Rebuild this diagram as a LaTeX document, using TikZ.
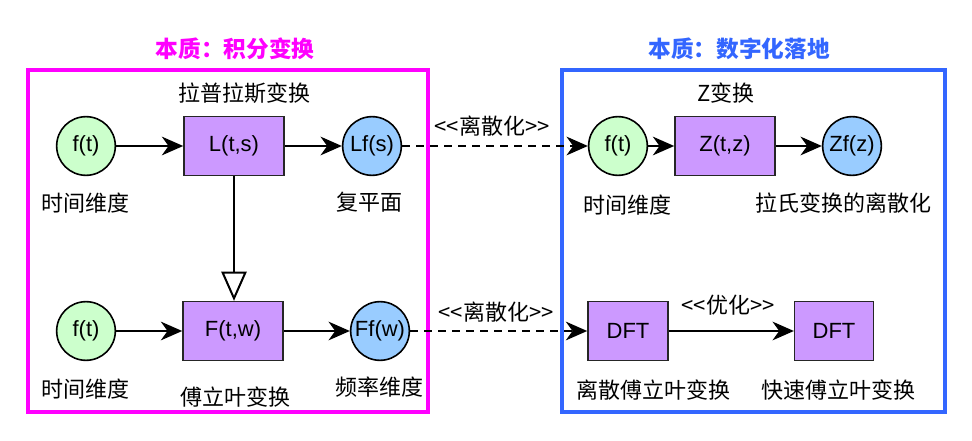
\documentclass[tikz,border=0pt]{standalone}
\usepackage{fontspec}
\setmainfont{Liberation Sans}
\newfontfamily\cjk{Noto Sans CJK SC}
\usetikzlibrary{arrows.meta}
\definecolor{cgreen}{HTML}{CCFFCC}
\definecolor{cblue}{HTML}{99CCFF}
\definecolor{cpurple}{HTML}{CC99FF}
\definecolor{cmag}{HTML}{FF00FF}
\definecolor{cframe}{HTML}{3366FF}
\begin{document}
\begin{tikzpicture}[x=0.75pt,y=-0.75pt,
  circ/.style={circle, draw=black, line width=1.2pt, minimum size=44pt, inner sep=0pt, font=\fontsize{16.5}{18}\selectfont},
  rbox/.style={rectangle, draw=black!85, line width=1.2pt, fill=cpurple, minimum width=75pt, minimum height=44pt, inner sep=0pt, font=\fontsize{16.5}{18}\selectfont},
  lbl/.style={font=\cjk\fontsize{16.5}{18}\selectfont, inner sep=0pt},
  ttl/.style={font=\cjk\bfseries\fontsize{17}{19}\selectfont, inner sep=0pt},
  conn/.style={line width=1.5pt, -{Stealth[length=16pt,width=14pt,inset=5pt]}},
  dconn/.style={conn, dash pattern=on 6pt off 4.5pt},
  tri/.style={line width=1.5pt, -{Triangle[open,length=22pt,width=19pt]}}]
\useasboundingbox (0,0) rectangle (972,441);
% frames
\draw[cmag, line width=3pt] (28,70) rectangle (428,412);
\draw[cframe, line width=3pt] (562,70) rectangle (945,412);
\node[ttl, text=cmag] (t1) at (235,49) {本质：积分变换};
\node[ttl, text=cframe] (t2) at (739,49) {本质：数字化落地};
% nodes
\node[circ, fill=cgreen] (f1) at (86,146) {f(t)};
\node[rbox] (L) at (234,146) {L(t,s)};
\node[circ, fill=cblue] (Lf) at (372,146) {Lf(s)};
\node[circ, fill=cgreen] (f2) at (86,331) {f(t)};
\node[rbox] (F) at (233,331) {F(t,w)};
\node[circ, fill=cblue] (Ff) at (380,331) {Ff(w)};
\node[circ, fill=cgreen] (f3) at (618,146) {f(t)};
\node[rbox] (Z) at (725,146) {Z(t,z)};
\node[circ, fill=cblue] (Zf) at (852,146) {Zf(z)};
\node[rbox, minimum width=60pt] (D1) at (628,331) {DFT};
\node[rbox, minimum width=59pt] (D2) at (834,331) {DFT};
% labels
\node[lbl] (l1) at (244,93) {拉普拉斯变换};
\node[lbl] (l2) at (85,203) {时间维度};
\node[lbl] (l3) at (369,202) {复平面};
\node[lbl] (l4) at (85,389) {时间维度};
\node[lbl] (l5) at (235,397) {傅立叶变换};
\node[lbl] (l6) at (379,387) {频率维度};
\node[lbl] (l7) at (726,93) {Z变换};
\node[lbl] (l8) at (492,126) {<{}<离散化>{}>};
\node[lbl] (l9) at (496,312) {<{}<离散化>{}>};
\node[lbl] (l10) at (627,205) {时间维度};
\node[lbl] (l11) at (843,203) {拉氏变换的离散化};
\node[lbl] (l12) at (728,305) {<{}<优化>{}>};
\node[lbl] (l13) at (653,390) {离散傅立叶变换};
\node[lbl] (l14) at (838,390) {快速傅立叶变换};
% connectors
\draw[conn] (f1) -- (L);
\draw[conn] (L) -- (Lf);
\draw[conn] (f2) -- (F);
\draw[conn] (F) -- (Ff);
\draw[conn] (f3) -- (Z);
\draw[conn] (Z) -- (Zf);
\draw[conn] (D1) -- (D2);
\draw[tri] (L.south) -- (L.south |- F.north);
\draw[dconn] (Lf) -- (f3);
\draw[dconn] (Ff) -- (D1);
\end{tikzpicture}
\end{document}
